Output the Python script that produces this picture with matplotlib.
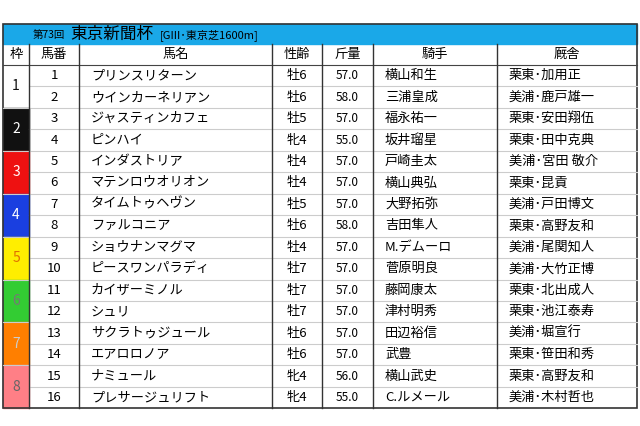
import matplotlib
matplotlib.use("Agg")
import matplotlib.pyplot as plt
from matplotlib.patches import Rectangle

plt.rcParams["font.family"] = "Noto Sans CJK JP"

title_num = "第73回"
title_main = "東京新聞杯"
title_sub = "[GIII･東京芝1600m]"
headers = ["枠", "馬番", "馬名", "性齢", "斤量", "騎手", "厩舎"]
horse_nums = list(range(1, 17))
horse_names = ["プリンスリターン", "ウインカーネリアン", "ジャスティンカフェ", "ピンハイ",
               "インダストリア", "マテンロウオリオン", "タイムトゥヘヴン", "ファルコニア",
               "ショウナンマグマ", "ピースワンパラディ", "カイザーミノル", "シュリ",
               "サクラトゥジュール", "エアロロノア", "ナミュール", "プレサージュリフト"]
sex_age = ["牡6", "牡6", "牡5", "牝4", "牡4", "牡4", "牡5", "牡6",
           "牡4", "牡7", "牡7", "牡7", "牡6", "牡6", "牝4", "牝4"]
weights = ["57.0", "58.0", "57.0", "55.0", "57.0", "57.0", "57.0", "58.0",
           "57.0", "57.0", "57.0", "57.0", "57.0", "57.0", "56.0", "55.0"]
jockeys = ["横山和生", "三浦皇成", "福永祐一", "坂井瑠星", "戸崎圭太", "横山典弘",
           "大野拓弥", "吉田隼人", "M.デムーロ", "菅原明良", "藤岡康太", "津村明秀",
           "田辺裕信", "武豊", "横山武史", "C.ルメール"]
trainers = ["栗東･加用正", "美浦･鹿戸雄一", "栗東･安田翔伍", "栗東･田中克典",
            "美浦･宮田 敬介", "栗東･昆貢", "美浦･戸田博文", "栗東･高野友和",
            "美浦･尾関知人", "美浦･大竹正博", "栗東･北出成人", "栗東･池江泰寿",
            "美浦･堀宣行", "栗東･笹田和秀", "栗東･高野友和", "美浦･木村哲也"]
frame_colors = ["#ffffff", "#111111", "#ee1111", "#1a3fe0", "#ffee00", "#33cc33", "#ff7f00", "#ff7f86"]
frame_text = ["#111111", "#ffffff", "#ffffff", "#ffffff", "#e07000", "#777777", "#cccccc", "#666666"]

col_x = [3, 29, 79, 272, 322, 373, 497, 637]
top, bar_h, head_h = 24, 20, 21
row_h = 21.45
row0 = top + bar_h + head_h

fig = plt.figure(figsize=(6.4, 4.26), dpi=100)
ax = fig.add_axes([0, 0, 1, 1])
ax.set_xlim(0, 640)
ax.set_ylim(426, 0)
ax.axis("off")

ax.add_patch(Rectangle((col_x[0], top), col_x[-1] - col_x[0], bar_h, color="#1aa8e8"))
ax.text(33, top + bar_h / 2 + 1, title_num, fontsize=7.5, va="center", ha="left")
ax.text(70, top + bar_h / 2, title_main, fontsize=12, va="center", ha="left")
ax.text(160, top + bar_h / 2 + 1, title_sub, fontsize=8, va="center", ha="left")

hy = top + bar_h + head_h / 2
for i, h in enumerate(headers):
    ax.text((col_x[i] + col_x[i + 1]) / 2, hy, h, fontsize=9.5, ha="center", va="center")

for f in range(8):
    y = row0 + 2 * f * row_h
    ax.add_patch(Rectangle((col_x[0], y), col_x[1] - col_x[0], 2 * row_h, color=frame_colors[f]))
    ax.text((col_x[0] + col_x[1]) / 2, y + row_h, str(f + 1), fontsize=10,
            ha="center", va="center", color=frame_text[f])

fs = 9.5
for r in range(16):
    y = row0 + r * row_h + row_h / 2
    ax.text((col_x[1] + col_x[2]) / 2, y, str(horse_nums[r]), fontsize=fs, ha="center", va="center")
    ax.text(col_x[2] + 12, y, horse_names[r], fontsize=fs, ha="left", va="center")
    ax.text((col_x[3] + col_x[4]) / 2, y, sex_age[r], fontsize=fs, ha="center", va="center")
    ax.text((col_x[4] + col_x[5]) / 2, y, weights[r], fontsize=8.5, ha="center", va="center")
    ax.text(col_x[5] + 12, y, jockeys[r], fontsize=fs, ha="left", va="center")
    ax.text(col_x[6] + 12, y, trainers[r], fontsize=fs, ha="left", va="center")

bottom = row0 + 16 * row_h
ax.plot([col_x[0], col_x[-1]], [row0, row0], color="#444444", lw=0.8)
for r in range(1, 16):
    yy = row0 + r * row_h
    ax.plot([col_x[1], col_x[-1]], [yy, yy], color="#cccccc", lw=0.8)
for f in range(1, 8):
    yy = row0 + 2 * f * row_h
    ax.plot([col_x[0], col_x[1]], [yy, yy], color="#cccccc", lw=0.8)
for x in col_x[1:-1]:
    ax.plot([x, x], [top + bar_h, bottom], color="#333333", lw=1.0)
ax.add_patch(Rectangle((col_x[0], top), col_x[-1] - col_x[0], bottom - top,
                       fill=False, ec="#333333", lw=1.2))

fig.savefig("out.png", dpi=100)
